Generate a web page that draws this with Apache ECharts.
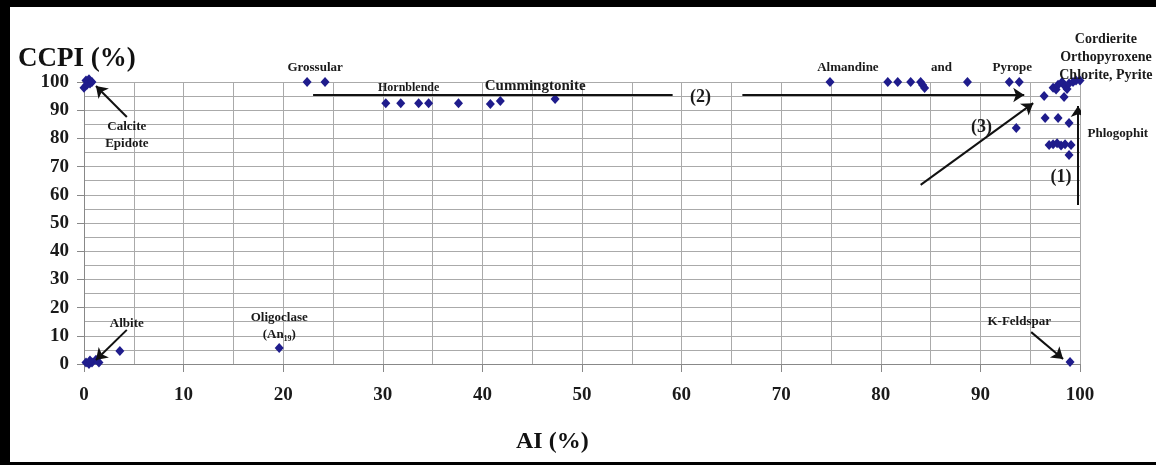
<!DOCTYPE html>
<html>
<head>
<meta charset="utf-8">
<script src="https://cdn.jsdelivr.net/npm/echarts@6/dist/echarts.min.js"></script>
<style>
  html, body { margin: 0; padding: 0; background: #fff; }
  #chart { width: 1156px; height: 465px; }
</style>
</head>
<body>
<div id="chart"></div>
<script>
// AI (%) vs CCPI (%) per mineral group
const calciteEpidote = [[0, 98], [0.2, 100.5], [0.5, 101], [0.6, 99.5], [0.3, 99], [0.8, 100]];
const grossular = [[22.4, 100], [24.2, 100]];
const hornblende = [[30.3, 92.5], [31.8, 92.5], [33.6, 92.5], [34.6, 92.5], [37.6, 92.5]];
const cummingtonite = [[40.8, 92.2], [41.8, 93.3], [47.3, 94]];
const almandinePyrope = [[74.9, 100], [80.7, 100], [81.7, 100], [83.0, 100], [84.0, 100], [84.2, 98.9], [84.4, 97.9], [88.7, 100], [92.9, 100], [93.9, 100]];
const cordieriteGroup = [[96.4, 95], [98.4, 94.7], [97.3, 98], [97.6, 97.3], [97.8, 99], [98.2, 100], [98.5, 98.5], [98.7, 97.5], [98.9, 99.5], [99.3, 100], [99.6, 100.5], [100, 100.5]];
const phlogopite = [[93.6, 83.7], [96.5, 87.2], [97.8, 87.2], [98.9, 85.5], [96.9, 77.7], [97.3, 77.9], [97.7, 78.3], [98.1, 77.5], [98.5, 77.9], [99.1, 77.7], [98.9, 74.1]];
const feldspars = [[0.2, 0.5], [0.5, 0], [0.8, 0.5], [1.2, 1.5], [1.5, 0.5], [0.6, 1.2], [3.6, 4.6], [19.6, 5.7], [99.0, 0.7]];

const xTicks = [0, 10, 20, 30, 40, 50, 60, 70, 80, 90, 100];

// arrows (tail -> head) and plain segments, in data units
const arrows = [
    [[4.3, 87.6], [1.2, 98.6]],
    [[4.3, 12.1], [1.2, 1.4]],
    [[95.1, 11.3], [98.3, 1.8]],
    [[66.1, 95.4], [94.4, 95.4]],
    [[84.0, 63.5], [95.3, 92.5]],
    [[99.8, 56.4], [99.8, 91.5]]
];
const plainLines = [
    [[23.0, 95.4], [59.1, 95.4]]
];

// text notes: [text, x, y, fontSize]
const notes = [
    ['Calcite\nEpidote', 4.3, 81.2, 13],
    ['Grossular', 23.2, 105.0, 13],
    ['Hornblende', 32.6, 97.9, 12],
    ['Cummingtonite', 45.3, 98.6, 15],
    ['(2)', 61.9, 94.7, 18],
    ['Almandine', 76.7, 105.0, 13],
    ['and', 86.1, 105.0, 13],
    ['Pyrope', 93.2, 105.0, 13],
    ['Cordierite\nOrthopyroxene\nChlorite, Pyrite', 102.6, 108.9, 14],
    ['(3)', 90.1, 84.0, 18],
    ['Phlogophit', 103.8, 81.6, 13],
    ['(1)', 98.1, 66.3, 18],
    ['Albite', 4.3, 14.2, 13],
    ['Oligoclase\n(An₁₉)', 19.6, 13.5, 13],
    ['K-Feldspar', 93.9, 14.9, 13]
];

const serif = '"Liberation Serif", "DejaVu Serif", serif';
const allPoints = [].concat(calciteEpidote, grossular, hornblende, cummingtonite,
    almandinePyrope, cordieriteGroup, phlogopite, feldspars);

let chart = echarts.init(document.getElementById('chart'));
let option = {
    animation: false,
    backgroundColor: '#fff',
    title: [{
        text: 'CCPI (%)',
        left: 13,
        top: 41,
        textStyle: { fontFamily: serif, fontWeight: 'bold', fontSize: 27, color: '#111' }
    }, {
        text: 'AI (%)',
        left: 511,
        top: 425,
        textStyle: { fontFamily: serif, fontWeight: 'bold', fontSize: 24, color: '#111' }
    }],
    graphic: [
        { type: 'rect', shape: { x: 0, y: 0, width: 1156, height: 7 }, style: { fill: '#000' } },
        { type: 'rect', shape: { x: 0, y: 0, width: 10, height: 465 }, style: { fill: '#000' } },
        { type: 'rect', shape: { x: 0, y: 462, width: 1156, height: 3 }, style: { fill: '#000' } }
    ],
    grid: { left: 84, right: 76, top: 82, bottom: 101 },
    xAxis: {
        type: 'value',
        min: 0,
        max: 100,
        interval: 10,
        axisLine: { show: true, lineStyle: { color: '#888', width: 1 } },
        axisTick: { show: true, length: 8, lineStyle: { color: '#888' } },
        minorTick: { show: false, splitNumber: 2 },
        splitLine: { show: true, lineStyle: { color: '#aaa', width: 1 } },
        minorSplitLine: { show: true, lineStyle: { color: '#aaa', width: 1 } },
        axisLabel: {
            margin: 22,
            fontFamily: serif,
            fontWeight: 'bold',
            fontSize: 19,
            color: '#1a1a1a',
            formatter: v => xTicks.indexOf(v) >= 0 ? String(v) : ''
        }
    },
    yAxis: {
        type: 'value',
        min: 0,
        max: 100,
        interval: 10,
        axisLine: { show: true, lineStyle: { color: '#888', width: 1 } },
        axisTick: { show: true, length: 7, lineStyle: { color: '#888' } },
        minorTick: { show: false, splitNumber: 2 },
        splitLine: { show: true, lineStyle: { color: '#aaa', width: 1 } },
        minorSplitLine: { show: true, lineStyle: { color: '#aaa', width: 1 } },
        axisLabel: {
            margin: 15,
            fontFamily: serif,
            fontWeight: 'bold',
            fontSize: 19,
            color: '#1a1a1a'
        }
    },
    series: [{
        name: 'minerals',
        type: 'scatter',
        clip: false,
        symbol: 'diamond',
        symbolSize: [9, 10],
        itemStyle: { color: '#1f1c8c', opacity: 1 },
        data: allPoints,
        z: 5
    }, {
        name: 'arrows',
        type: 'lines',
        coordinateSystem: 'cartesian2d',
        symbol: ['none', 'arrow'],
        symbolSize: 11,
        lineStyle: { color: '#111', width: 2, opacity: 1 },
        data: arrows.map(a => ({ coords: a })),
        z: 6
    }, {
        name: 'segments',
        type: 'lines',
        coordinateSystem: 'cartesian2d',
        symbol: ['none', 'none'],
        lineStyle: { color: '#111', width: 2, opacity: 1 },
        data: plainLines.map(a => ({ coords: a })),
        z: 6
    }, {
        name: 'notes',
        type: 'scatter',
        clip: false,
        symbolSize: 0,
        silent: true,
        itemStyle: { opacity: 1 },
        data: notes.map(n => ({
            name: n[0],
            value: [n[1], n[2]],
            label: { fontSize: n[3], lineHeight: n[3] + 4 }
        })),
        label: {
            show: true,
            position: 'inside',
            formatter: '{b}',
            fontFamily: serif,
            fontWeight: 'bold',
            color: '#1a1a1a',
            opacity: 1,
            align: 'center',
            verticalAlign: 'middle'
        },
        z: 7
    }]
};

option && chart.setOption(option);
</script>
</body>
</html>
